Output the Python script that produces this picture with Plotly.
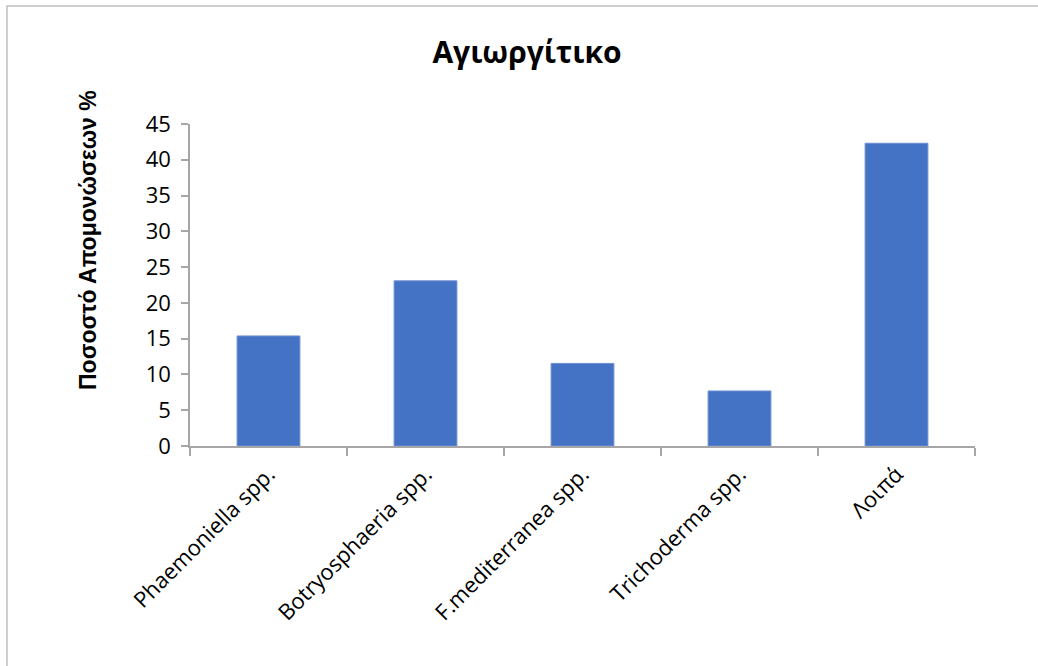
import plotly.graph_objects as go

# Isolation percentages per fungal group
categories = ["Phaemoniella spp.", "Botryosphaeria spp.", "F.mediterranea spp.",
              "Trichoderma spp.", "Λοιπά"]
percentages = [15.38, 23.08, 11.54, 7.69, 42.31]
y_ticks = [0, 5, 10, 15, 20, 25, 30, 35, 40, 45]

W, H = 1038, 666
L, R, T, B = 190, 63, 124, 220
pw, ph = W - L - R, H - T - B

def px_x(x):
    return (x - L) / pw

def px_y(y):
    return (H - B - y) / ph

axis_grey = "#A6A6A6"
tick_font = dict(family="Open Sans, sans-serif", size=22, color="#000000")

fig = go.Figure(go.Bar(
    x=categories,
    y=percentages,
    marker=dict(color="#4472C4", line=dict(color="#6F8FD0", width=1)),
    width=0.4,
))

fig.update_layout(
    width=W, height=H,
    margin=dict(l=L, r=R, t=T, b=B, autoexpand=False),
    paper_bgcolor="white",
    plot_bgcolor="white",
    showlegend=False,
    title=dict(
        text="<b>Αγιωργίτικο</b>",
        x=527 / W, xref="container", xanchor="center",
        y=1 - 52 / H, yref="container", yanchor="middle",
        font=dict(family="Open Sans, sans-serif", size=30, color="#000000"),
    ),
    xaxis=dict(
        type="category",
        tickangle=-45,
        tickson="boundaries",
        ticks="outside",
        ticklen=8,
        tickcolor=axis_grey,
        tickwidth=1.5,
        ticklabelstandoff=5,
        showline=True,
        linecolor=axis_grey,
        linewidth=1.5,
        showgrid=False,
        tickfont=tick_font,
    ),
    yaxis=dict(
        range=[0, 45],
        tickvals=y_ticks,
        ticks="outside",
        ticklen=7,
        tickcolor=axis_grey,
        tickwidth=1.5,
        ticklabelstandoff=6,
        showline=True,
        linecolor=axis_grey,
        linewidth=1.5,
        showgrid=False,
        zeroline=False,
        tickfont=tick_font,
    ),
    annotations=[
        dict(
            text="<b>Ποσοστό Απομονώσεων %</b>",
            xref="paper", yref="paper",
            x=px_x(88), y=px_y(240),
            xanchor="center", yanchor="middle",
            textangle=-90, showarrow=False,
            font=dict(family="Liberation Sans, Arial, sans-serif", size=23, color="#000000"),
        ),
    ],
    shapes=[
        # chart-area frame (left and top edges visible)
        dict(type="rect", xref="paper", yref="paper",
             x0=px_x(7), x1=px_x(1060), y0=px_y(690), y1=px_y(6),
             line=dict(color="#BFBFBF", width=1.5), fillcolor="rgba(0,0,0,0)",
             layer="below"),
    ],
)

fig.write_html("out.html")
